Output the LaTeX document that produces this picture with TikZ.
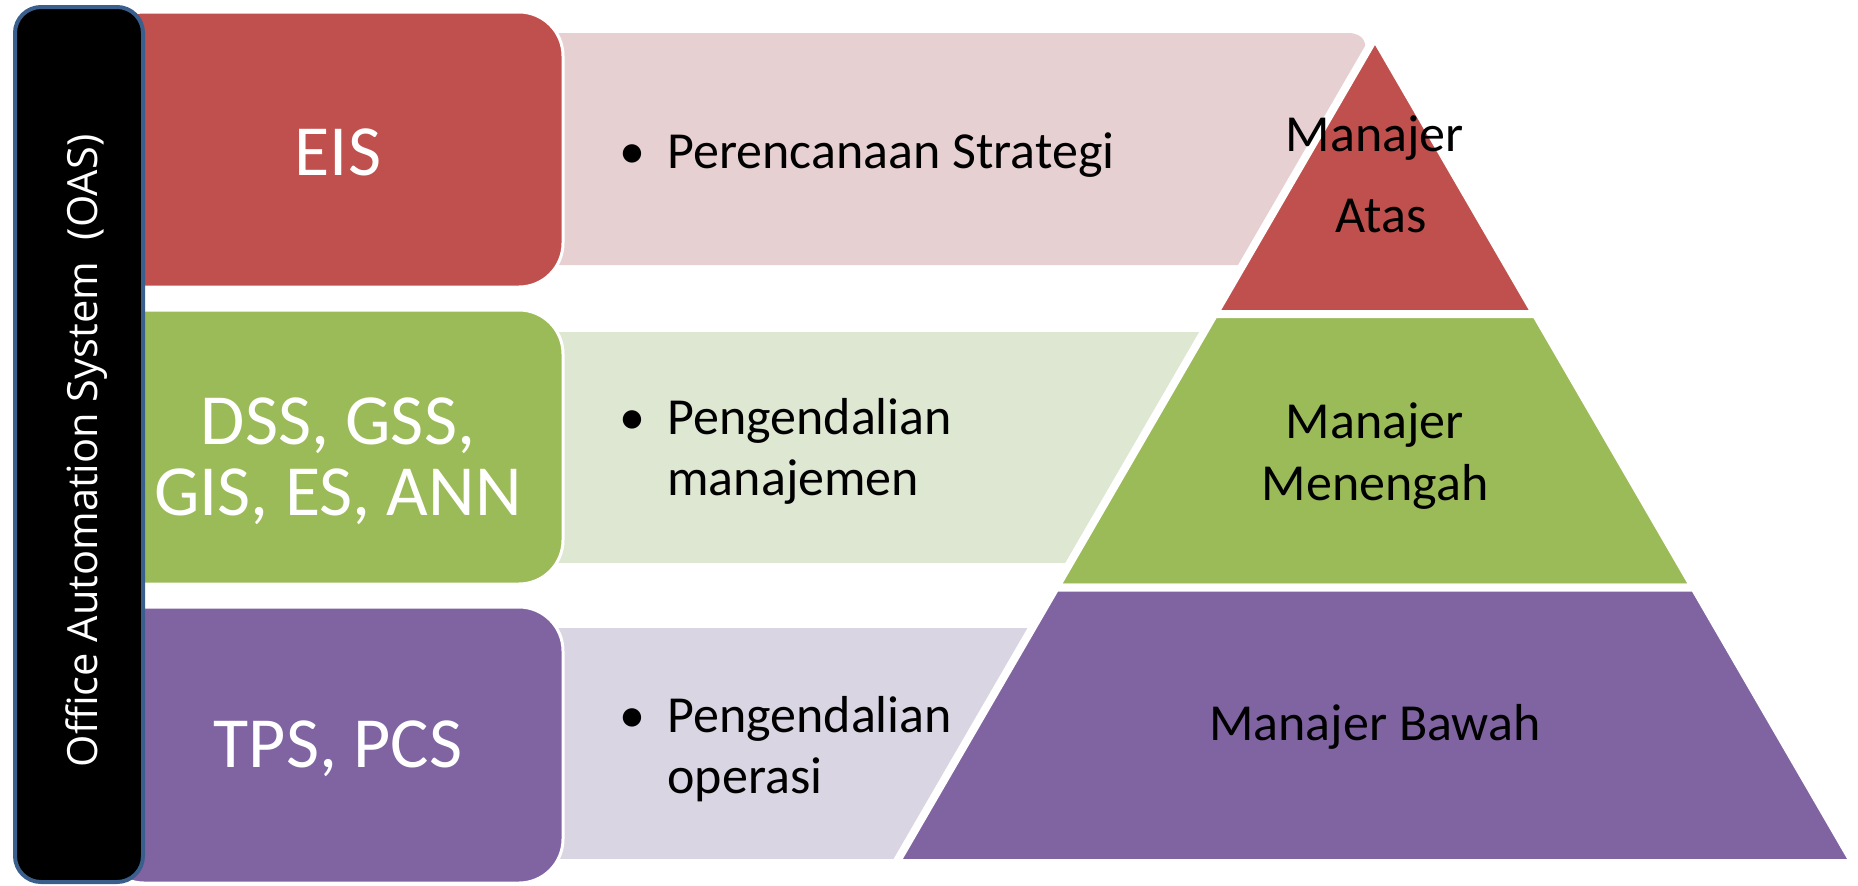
\documentclass[tikz,border=0pt]{standalone}
\usepackage{fontspec}
\setmainfont{Carlito}
\newfontfamily\oasfont{Open Sans}
\definecolor{cred}{HTML}{C0504D}
\definecolor{cgreen}{HTML}{9BBB59}
\definecolor{cpurple}{HTML}{8064A2}
\definecolor{bred}{RGB}{231,208,210}
\definecolor{bgreen}{RGB}{222,231,210}
\definecolor{bpurple}{RGB}{218,213,226}
\definecolor{barblue}{HTML}{3A5F8D}
\tikzset{
  sysbox/.style={draw=white, line width=1.5pt, rounded corners=22pt},
  tier/.style={draw=white, line width=4pt, line join=miter},
  boxtxt/.style={text=white, inner sep=0pt, anchor=base, font=\fontsize{36}{42}\selectfont},
  btxt/.style={text=black, inner sep=0pt, anchor=base west, font=\fontsize{26}{31}\selectfont},
  bul/.style={text=black, inner sep=0pt, anchor=base, font=\fontsize{26}{31}\selectfont},
  ptxt/.style={text=black, inner sep=0pt, anchor=base, font=\fontsize{26}{31}\selectfont},
}
\begin{document}
\begin{tikzpicture}[x=0.5pt,y=-0.5pt]
\useasboundingbox (0,0) rectangle (1858,885);
% light bands
\fill[bred] (520,265) -- (520,33) [rounded corners=14pt] -- (1376,33) [sharp corners] -- (1241,265) -- cycle;
\fill[bgreen] (520,332) rectangle (1300,563);
\fill[bpurple] (520,628) rectangle (1150,859);
% system boxes
\draw[sysbox, fill=cred] (100,12) rectangle (563,287);
\draw[sysbox, fill=cgreen] (100,310) rectangle (563,584);
\draw[sysbox, fill=cpurple] (100,607) rectangle (563,883);
% OAS bar
\draw[draw=barblue, line width=2pt, fill=black, rounded corners=13pt] (15,7) rectangle (143,882);
\node[text=white, inner sep=0pt, rotate=90, anchor=base, font=\oasfont\fontsize{20.8}{25}\selectfont] (oas) at (97,451) {Office Automation System\ \ (OAS)};
% pyramid
\draw[tier, fill=cred] (1375,37) -- (1535.7,314) -- (1214.3,314) -- cycle;
\draw[tier, fill=cgreen] (1214.3,314) -- (1535.7,314) -- (1694.3,587.5) -- (1055.7,587.5) -- cycle;
\draw[tier, fill=cpurple] (1055.7,587.5) -- (1694.3,587.5) -- (1854.1,863) -- (895.9,863) -- cycle;
% box texts
\node[boxtxt] (eis) at (338,175) {EIS};
\node[boxtxt] (dss) at (338,444) {DSS, GSS,};
\node[boxtxt] (gis) at (338,515) {GIS, ES, ANN};
\node[boxtxt] (tps) at (338,767) {TPS, PCS};
% bullets
\node[bul] (b1) at (632,168) {•};
\node[btxt] (t1) at (667,168) {Perencanaan Strategi};
\node[bul] (b2) at (632,434) {•};
\node[btxt] (t2a) at (667,434) {Pengendalian};
\node[btxt] (t2b) at (667,495) {manajemen};
\node[bul] (b3) at (632,732) {•};
\node[btxt] (t3a) at (667,732) {Pengendalian};
\node[btxt] (t3b) at (667,793) {operasi};
% pyramid texts
\node[ptxt] (p1a) at (1375,151) {Manajer};
\node[ptxt] (p1b) at (1381,232) {Atas};
\node[ptxt] (p2a) at (1375,438) {Manajer};
\node[ptxt] (p2b) at (1375,500) {Menengah};
\node[ptxt] (p3) at (1375,740) {Manajer Bawah};
\end{tikzpicture}
\end{document}
